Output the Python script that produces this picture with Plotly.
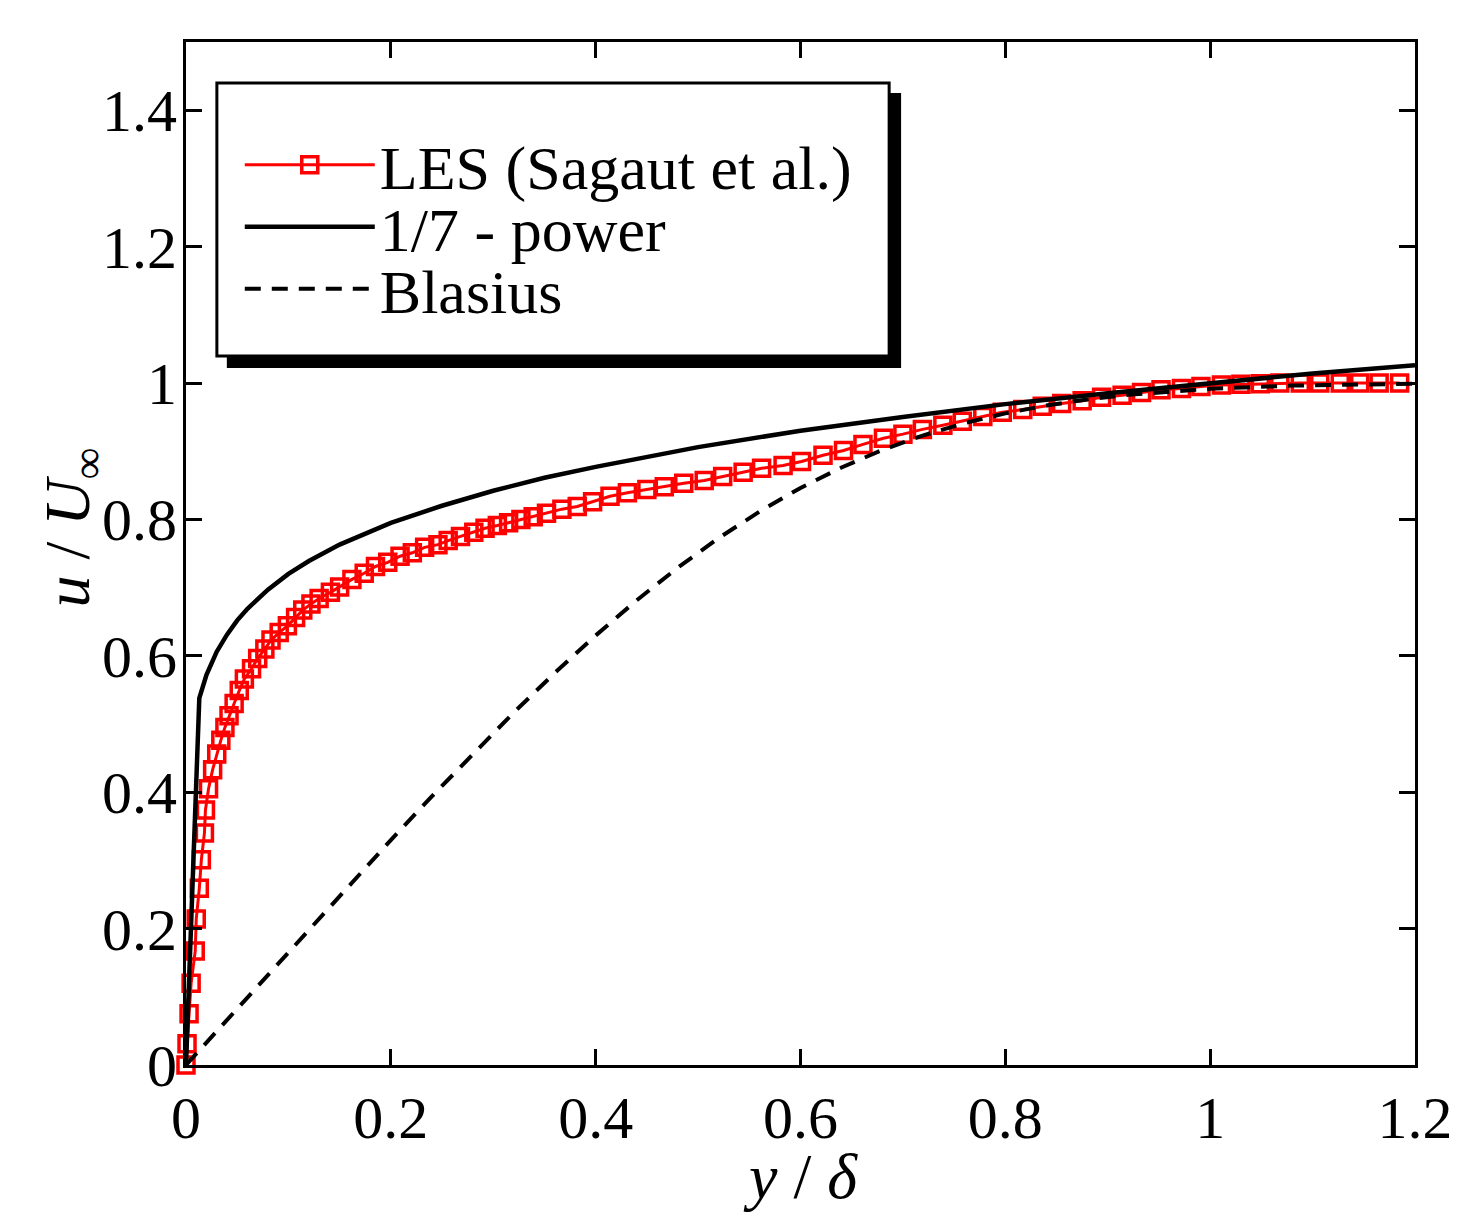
import plotly.graph_objects as go

# ---------------- data ----------------
les_x = [0.000, 0.001, 0.003, 0.005, 0.009, 0.010, 0.013, 0.015, 0.018, 0.019,
         0.022, 0.026, 0.030, 0.034, 0.038, 0.042, 0.047, 0.052, 0.057, 0.064,
         0.070, 0.077, 0.083, 0.091, 0.099, 0.107, 0.114, 0.122, 0.130, 0.141,
         0.150, 0.162, 0.174, 0.185, 0.197, 0.209, 0.221, 0.233, 0.246, 0.256,
         0.268, 0.281, 0.292, 0.304, 0.315, 0.327, 0.339, 0.352, 0.367, 0.382,
         0.397, 0.414, 0.431, 0.450, 0.467, 0.486, 0.506, 0.524, 0.544, 0.562,
         0.583, 0.601, 0.622, 0.642, 0.661, 0.681, 0.700, 0.719, 0.739, 0.758,
         0.778, 0.797, 0.817, 0.836, 0.855, 0.875, 0.894, 0.914, 0.933, 0.952,
         0.972, 0.991, 1.011, 1.030, 1.049, 1.068, 1.088, 1.107, 1.127, 1.146,
         1.165, 1.185]
les_u = [0.000, 0.031, 0.075, 0.120, 0.167, 0.214, 0.259, 0.301, 0.340, 0.374,
         0.405, 0.433, 0.456, 0.476, 0.495, 0.512, 0.530, 0.549, 0.566, 0.581,
         0.596, 0.610, 0.623, 0.634, 0.644, 0.656, 0.667, 0.676, 0.684, 0.693,
         0.701, 0.712, 0.721, 0.731, 0.737, 0.746, 0.751, 0.759, 0.763, 0.769,
         0.775, 0.781, 0.787, 0.791, 0.795, 0.800, 0.804, 0.809, 0.815, 0.819,
         0.826, 0.834, 0.839, 0.844, 0.848, 0.853, 0.857, 0.863, 0.869, 0.875,
         0.879, 0.885, 0.894, 0.901, 0.910, 0.919, 0.925, 0.932, 0.938, 0.944,
         0.951, 0.957, 0.961, 0.966, 0.970, 0.974, 0.979, 0.982, 0.986, 0.990,
         0.992, 0.995, 0.997, 0.998, 0.999, 1.000, 1.000, 1.000, 1.000, 1.000,
         1.000, 1.000]

power_x = [0.0, 0.013, 0.02, 0.03, 0.04, 0.05, 0.06, 0.08, 0.10, 0.12, 0.15,
           0.20, 0.25, 0.30, 0.35, 0.40, 0.50, 0.60, 0.70, 0.80, 0.90, 1.00,
           1.10, 1.20]
power_u = [0.0, 0.538, 0.572, 0.606, 0.631, 0.652, 0.669, 0.697, 0.720, 0.739,
           0.763, 0.795, 0.820, 0.842, 0.861, 0.877, 0.906, 0.930, 0.950, 0.969,
           0.985, 1.000, 1.014, 1.026]

blasius_x = [0.00, 0.04, 0.08, 0.12, 0.16, 0.20, 0.24, 0.28, 0.32, 0.36, 0.40,
             0.44, 0.48, 0.52, 0.56, 0.60, 0.64, 0.68, 0.72, 0.76, 0.80, 0.84,
             0.88, 0.92, 0.96, 1.00, 1.08, 1.16, 1.20]
blasius_u = [0.000, 0.0664, 0.1328, 0.1989, 0.2647, 0.3298, 0.3938, 0.4563,
             0.5168, 0.5748, 0.6298, 0.6813, 0.7290, 0.7725, 0.8115, 0.8461,
             0.8761, 0.9018, 0.9233, 0.9411, 0.9555, 0.9670, 0.9759, 0.9827,
             0.9878, 0.9916, 0.9962, 0.9984, 0.9990]

x_ticks = [0, 0.2, 0.4, 0.6, 0.8, 1.0, 1.2]
x_tick_labels = ["0", "0.2", "0.4", "0.6", "0.8", "1", "1.2"]
y_ticks = [0, 0.2, 0.4, 0.6, 0.8, 1.0, 1.2, 1.4]
y_tick_labels = ["0", "0.2", "0.4", "0.6", "0.8", "1", "1.2", "1.4"]

names = ["LES (Sagaut et al.)", "1/7 - power", "Blasius"]
x_title = "<i>y</i> / <i>δ</i>"
y_title = "<i>u</i> / <i>U</i><sub>∞</sub>"

# ---------------- figure ----------------
FONT = "Liberation Serif, Times New Roman, serif"
W, H = 1457, 1215
# page body adds an 8px offset; compensate so plot area lands at 184..1419 x 42..1065
OFF = 8
L, T = 186 - OFF, 42 - OFF
PW, PH = 1234, 1023
R = W - L - PW
B = H - T - PH

# plot-area position in (reference) screen pixels
SX0, SY0 = 186, 42


def px_x(p):
    return (p - SX0) / PW


def px_y(p):
    return (SY0 + PH - p) / PH


fig = go.Figure()

fig.add_trace(go.Scatter(
    x=les_x, y=les_u, name=names[0], mode="lines+markers",
    line=dict(color="#ff0000", width=3),
    marker=dict(symbol="square-open", size=16, color="#ff0000",
                line=dict(width=3.5, color="#ff0000")),
    cliponaxis=False, legend="legend"))

fig.add_trace(go.Scatter(
    x=power_x, y=power_u, name=names[1], mode="lines",
    line=dict(color="black", width=4.5), legend="legend2"))

fig.add_trace(go.Scatter(
    x=blasius_x, y=blasius_u, name=names[2], mode="lines",
    line=dict(color="black", width=4, dash="16px,11px"), legend="legend3"))

# legend box with shadow
fig.add_shape(type="rect", xref="paper", yref="paper",
              x0=px_x(227), x1=px_x(904), y0=px_y(368), y1=px_y(93),
              fillcolor="black", line=dict(width=0), layer="above")
fig.add_shape(type="rect", xref="paper", yref="paper",
              x0=px_x(217), x1=px_x(892), y0=px_y(356), y1=px_y(83),
              fillcolor="white", line=dict(color="black", width=3), layer="above")

leg_common = dict(bgcolor="rgba(0,0,0,0)", borderwidth=0,
                  font=dict(family=FONT, size=62, color="black"),
                  xanchor="left", yanchor="middle", itemwidth=130,
                  x=px_x(240))
fig.update_layout(
    legend=dict(y=px_y(165), **leg_common),
    legend2=dict(y=px_y(227), **leg_common),
    legend3=dict(y=px_y(289), **leg_common),
)

axis_common = dict(
    showgrid=False, zeroline=False, showline=True, linecolor="black",
    linewidth=3, mirror="ticks", ticks="inside", ticklen=16, tickwidth=3,
    tickcolor="black", tickfont=dict(family=FONT, size=60, color="black"),
)

fig.update_xaxes(range=[0, 1.2], tickvals=x_ticks, ticktext=x_tick_labels,
                 ticklabelstandoff=-2, **axis_common)
fig.update_yaxes(range=[0, 1.5], tickvals=y_ticks, ticktext=y_tick_labels,
                 ticklabelstandoff=-6, **axis_common)

fig.add_annotation(text=x_title, xref="paper", yref="paper",
                   x=px_x(803), y=px_y(1176), xanchor="center", yanchor="middle",
                   showarrow=False, font=dict(family=FONT, size=64, color="black"))
fig.add_annotation(text=y_title, xref="paper", yref="paper",
                   x=px_x(72), y=px_y(527), xanchor="center", yanchor="middle",
                   textangle=-90, showarrow=False,
                   font=dict(family=FONT, size=64, color="black"))

fig.update_layout(
    width=W, height=H,
    margin=dict(l=L, r=R, t=T, b=B, pad=0),
    paper_bgcolor="white", plot_bgcolor="white",
    font=dict(family=FONT, color="black"),
    showlegend=True,
)

fig.write_html("out.html")
